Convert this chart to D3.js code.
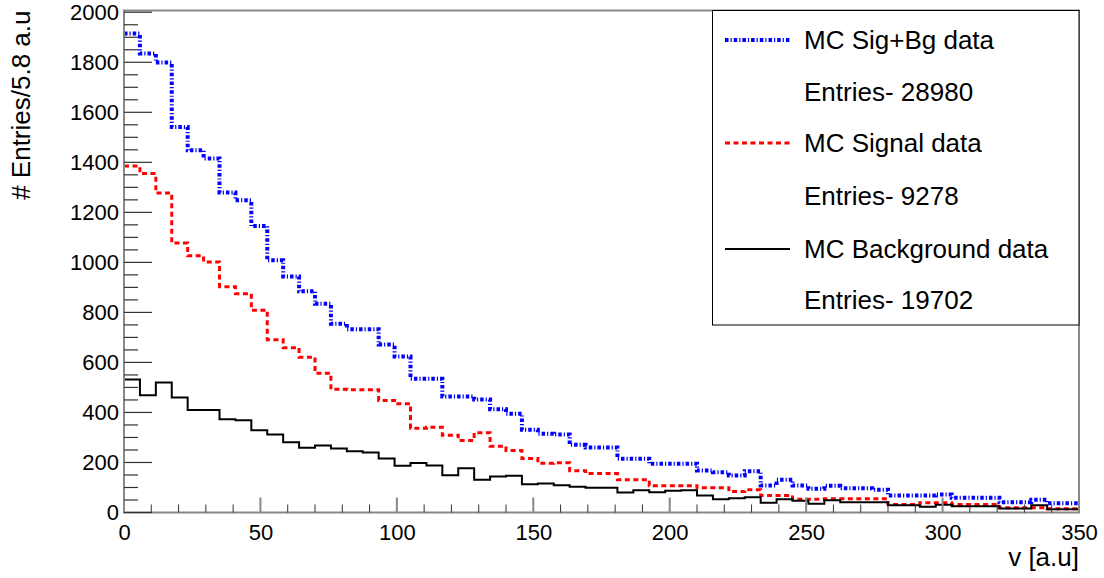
<!DOCTYPE html>
<html>
<head>
<meta charset="utf-8">
<script src="https://cdn.jsdelivr.net/npm/d3@7/dist/d3.min.js"></script>
<style>
html,body{margin:0;padding:0;background:#fff;}
svg{display:block;font-family:"Liberation Sans",Arial,Helvetica,sans-serif;}
</style>
</head>
<body>
<svg id="chart" width="1104" height="578"></svg>
<script>
// ---- data (60 bins over 0..350) ----
const xMin = 0, xMax = 350, nBins = 60;
const sigBg = [1915,1835,1799,1541,1448,1415,1279,1248,1145,1008,
               944,885,835,755,733,733,672,624,535,535,
               464,464,452,413,395,331,315,312,271,260,
               260,215,215,195,195,195,168,161,148,165,
               108,131,108,95,107,97,97,91,68,68,
               68,72,59,59,59,41,41,51,37,37];
const signal = [1385,1355,1277,1077,1026,1002,903,875,809,691,
                659,621,557,493,491,491,448,435,337,341,
                309,288,319,265,248,216,197,199,167,156,
                156,131,131,107,107,107,99,99,84,91,
                68,68,53,53,55,55,55,55,32,32,
                39,39,32,32,32,19,19,19,15,15];
const background = [532,469,520,460,410,410,373,369,329,312,
                    281,259,268,256,245,240,216,187,198,188,
                    149,177,131,144,147,113,116,109,103,99,
                    99,80,89,81,87,89,68,53,57,61,
                    39,53,47,35,49,41,41,41,29,29,
                    23,31,25,25,25,16,16,29,13,13];
const xTicks = [0,50,100,150,200,250,300,350];
const yTicks = [0,200,400,600,800,1000,1200,1400,1600,1800,2000];
const legendLabels = ["MC Sig+Bg data","Entries- 28980","MC Signal data","Entries- 9278","MC Background data","Entries- 19702"];
const xTitle = "v [a.u]";
const yTitle = "# Entries/5.8 a.u";

// ---- layout ----
const L = 124, R = 1079, T = 10.5, B = 512.5;
const svg = d3.select("#chart");
const x = d3.scaleLinear().domain([xMin, xMax]).range([L, R]);
const y = d3.scaleLinear().domain([0, 2007]).range([B, T]);
const binW = (xMax - xMin) / nBins;

svg.append("clipPath").attr("id","clip").append("rect")
  .attr("x", L).attr("y", T).attr("width", R - L).attr("height", B - T);

function stepPts(vals){
  const pts = vals.map((v,i)=>[xMin + i*binW, v]);
  pts.push([xMax, vals[vals.length-1]]);
  return pts;
}
const line = d3.line().x(d=>x(d[0])).y(d=>y(d[1])).curve(d3.curveStepAfter);

const series = [
  {vals: sigBg, color:"#0000ff", width:4, dash:"3.5,2,1.2,2"},
  {vals: signal, color:"#ff0000", width:3, dash:"5,3.5"},
  {vals: background, color:"#000000", width:2, dash:null}
];
const g = svg.append("g").attr("clip-path","url(#clip)");
series.forEach(s=>{
  g.append("path").attr("d", line(stepPts(s.vals)))
    .attr("fill","none").attr("stroke", s.color).attr("stroke-width", s.width)
    .attr("stroke-dasharray", s.dash);
});

// ---- axes ----
const axisCol = "#888";
const tickCol = "#333";
// frame
svg.append("rect").attr("x", L).attr("y", T).attr("width", R-L).attr("height", B-T)
  .attr("fill","none").attr("stroke", axisCol).attr("stroke-width", 2);

// x ticks
const xMinor = d3.range(0, 351, 10);
xMinor.forEach(v=>{
  const major = v % 50 === 0;
  svg.append("line").attr("x1", x(v)).attr("x2", x(v))
    .attr("y1", B).attr("y2", B - (major ? 15 : 8))
    .attr("stroke", major ? axisCol : tickCol).attr("stroke-width", major ? 2 : 1);
});
const xAxis = d3.axisBottom(x).tickValues(xTicks).tickSize(0).tickPadding(8).tickFormat(d3.format("d"));
const gx = svg.append("g").attr("transform",`translate(0,${B})`).call(xAxis);
gx.select(".domain").remove();
gx.selectAll("text").attr("font-size", 22).attr("fill","#000")
  .attr("font-family","Liberation Sans, Arial, sans-serif").attr("dy","0.9em");

// y ticks
const yMinor = d3.range(0, 2001, 50);
yMinor.forEach(v=>{
  const major = v % 200 === 0;
  svg.append("line").attr("x1", L).attr("x2", L + (major ? 28 : 14))
    .attr("y1", y(v)).attr("y2", y(v))
    .attr("stroke", tickCol).attr("stroke-width", 1.2);
});
const yAxis = d3.axisLeft(y).tickValues(yTicks).tickSize(0).tickPadding(5).tickFormat(d3.format("d"));
const gy = svg.append("g").attr("transform",`translate(${L},0)`).call(yAxis);
gy.select(".domain").remove();
gy.selectAll("text").attr("font-size", 22).attr("fill","#000")
  .attr("font-family","Liberation Sans, Arial, sans-serif");

// titles
svg.append("text").attr("x", R).attr("y", 566).attr("text-anchor","end")
  .attr("font-size", 26).text(xTitle);
svg.append("text").attr("transform",`translate(30,${T}) rotate(-90)`)
  .attr("text-anchor","end").attr("font-size", 26).text(yTitle);

// ---- legend ----
const lg = svg.append("g");
lg.append("rect").attr("x", 712.5).attr("y", T).attr("width", R - 712.5).attr("height", 325 - T)
  .attr("fill","#fff").attr("stroke","#000").attr("stroke-width",1);
const rowY = [40, 92, 143, 196, 249, 300];
legendLabels.forEach((lab,i)=>{
  lg.append("text").attr("x", 804).attr("y", rowY[i]).attr("dy","0.36em")
    .attr("font-size", 26).attr("fill","#000").text(lab);
});
[0,2,4].forEach((r,k)=>{
  const s = series[k];
  lg.append("line").attr("x1", 725).attr("x2", 790).attr("y1", rowY[r]).attr("y2", rowY[r])
    .attr("stroke", s.color).attr("stroke-width", s.width).attr("stroke-dasharray", s.dash);
});
</script>
</body>
</html>
